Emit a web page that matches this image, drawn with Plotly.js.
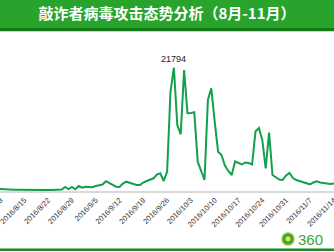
<!DOCTYPE html>
<html><head><meta charset="utf-8">
<script src="https://cdn.plot.ly/plotly-3.0.1.min.js"></script>
<style>html,body{margin:0;padding:0;background:#fff;overflow:hidden}#chart{width:334px;height:252px}</style>
</head><body><div id="chart"></div>
<script>
const dates = [
"2016-08-07","2016-08-08","2016-08-09","2016-08-10","2016-08-11","2016-08-12","2016-08-13","2016-08-14",
"2016-08-15","2016-08-16","2016-08-17","2016-08-18","2016-08-19","2016-08-20","2016-08-21",
"2016-08-22","2016-08-23","2016-08-24","2016-08-25","2016-08-26","2016-08-27","2016-08-28",
"2016-08-29","2016-08-30","2016-08-31","2016-09-01","2016-09-02","2016-09-03","2016-09-04",
"2016-09-05","2016-09-06","2016-09-07","2016-09-08","2016-09-09","2016-09-10","2016-09-11",
"2016-09-12","2016-09-13","2016-09-14","2016-09-15","2016-09-16","2016-09-17","2016-09-18",
"2016-09-19","2016-09-20","2016-09-21","2016-09-22","2016-09-23","2016-09-24","2016-09-25",
"2016-09-26","2016-09-27","2016-09-28","2016-09-29","2016-09-30","2016-10-01","2016-10-02",
"2016-10-03","2016-10-04","2016-10-05","2016-10-06","2016-10-07","2016-10-08","2016-10-09",
"2016-10-10","2016-10-11","2016-10-12","2016-10-13","2016-10-14","2016-10-15","2016-10-16",
"2016-10-17","2016-10-18","2016-10-19","2016-10-20","2016-10-21","2016-10-22","2016-10-23",
"2016-10-24","2016-10-25","2016-10-26","2016-10-27","2016-10-28","2016-10-29","2016-10-30",
"2016-10-31","2016-11-01","2016-11-02","2016-11-03","2016-11-04","2016-11-05","2016-11-06",
"2016-11-07","2016-11-08","2016-11-09","2016-11-10","2016-11-11","2016-11-12","2016-11-13",
"2016-11-14","2016-11-15"];
const attacks = [
354,354,318,283,248,230,212,194,
180,170,160,150,150,145,150,
160,170,180,200,265,707,354,
707,300,884,583,760,654,654,
884,1008,1149,1733,1414,1061,760,
707,1326,1644,1467,1238,1061,1061,
1503,1768,2069,2245,2917,3129,1768,
3412,17556,21794,11669,10025,21393,13737,
13790,13914,5180,3536,1945,16089,18157,
12252,6948,6365,4508,3536,2829,5216,
4950,4685,5039,4950,4685,10520,11138,
9017,3978,10307,2829,2422,2033,1945,
2740,3182,2298,1945,1733,1538,1326,
1185,1503,1715,1503,1414,1326,1238,
1326,1326];
const tickDates = ["2016-08-08","2016-08-15","2016-08-22","2016-08-29","2016-09-05","2016-09-12","2016-09-19",
"2016-09-26","2016-10-03","2016-10-10","2016-10-17","2016-10-24","2016-10-31","2016-11-07","2016-11-14"];
const tickLabels = ["2016/8/8","2016/8/15","2016/8/22","2016/8/29","2016/9/5","2016/9/12","2016/9/19",
"2016/9/26","2016/10/3","2016/10/10","2016/10/17","2016/10/24","2016/10/31","2016/11/7","2016/11/14"];
const peakDate = "2016-09-28";
const peakValue = 21794;
const chartTitle = "敲诈者病毒攻击态势分析（8月-11月）";
const logoText = "360";

const data = [{
  type: "scatter", mode: "lines", x: dates, y: attacks,
  line: {color: "#14a04a", width: 2},
  hoverinfo: "skip"
}];
const layout = {
  width: 334, height: 252,
  margin: {l: 0, r: 0, t: 40, b: 61},
  paper_bgcolor: "#ffffff", plot_bgcolor: "#ffffff",
  showlegend: false,
  title: {text: chartTitle, font: {family: "Noto Sans CJK SC", size: 15, color: "#ffffff", weight: "bold"},
          x: 0.5, xanchor: "center", xref: "paper", y: 0.945, yanchor: "middle", yref: "container"},
  xaxis: {type: "date", range: ["2016-08-07 20:28", "2016-11-14 02:10"],
          tickmode: "array", tickvals: tickDates, ticktext: tickLabels, tickangle: -45,
          ticklabeloverflow: "allow",
          tickfont: {family: "Liberation Sans, Arial", size: 7.5, color: "#333"},
          ticks: "", showgrid: false, zeroline: false,
          showline: true, linecolor: "#d9d9d9", linewidth: 2},
  yaxis: {range: [0, 26691], visible: false, showgrid: false, zeroline: false, fixedrange: true},
  shapes: [
    {type: "rect", xref: "paper", yref: "paper", x0: 0, x1: 1, y0: 1.079, y1: 1.27, line: {width: 0}, fillcolor: "#28a32c", layer: "below"},
    {type: "rect", xref: "paper", yref: "paper", x0: 0, x1: 1, y0: 1.058, y1: 1.079, line: {width: 0}, fillcolor: "#137816", layer: "below"},
    {type: "rect", xref: "paper", yref: "paper", x0: 0, x1: 1, y0: -0.397, y1: -0.381, line: {width: 0}, fillcolor: "#1f8a23"},
    {type: "circle", xref: "paper", yref: "paper", x0: 282/334, x1: 294/334, y0: -0.357, y1: -0.278, line: {color: "#8cc63f", width: 1.5}, fillcolor: "#3aa635"},
    {type: "circle", xref: "paper", yref: "paper", x0: 285.5/334, x1: 290.5/334, y0: -0.334, y1: -0.301, line: {width: 0}, fillcolor: "#f2e33a"}
  ],
  annotations: [
    {x: peakDate, y: peakValue, xref: "x", yref: "y", text: String(peakValue), showarrow: false,
     yanchor: "bottom", yshift: 2, font: {family: "Liberation Sans, Arial", size: 9, color: "#222"}},
    {xref: "paper", yref: "paper", x: 296/334, y: -0.318, xanchor: "left", yanchor: "middle", showarrow: false,
     text: logoText, font: {family: "Liberation Sans, Arial", size: 15, color: "#3aa635"}}
  ]
};
Plotly.newPlot("chart", data, layout, {displayModeBar: false, staticPlot: true});
</script></body></html>
